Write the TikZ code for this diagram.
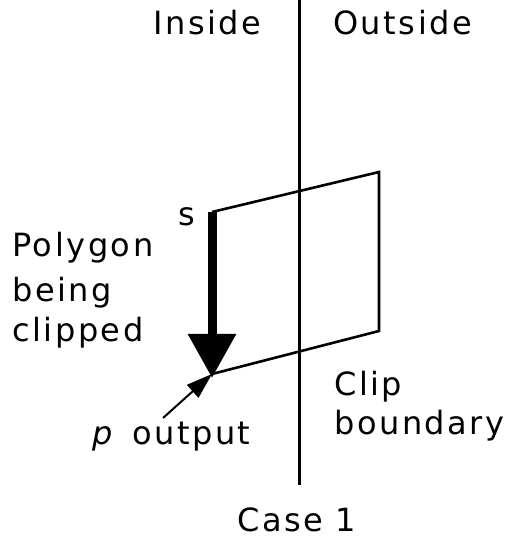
\documentclass[tikz,border=0pt]{standalone}
\usepackage{fontspec}
\newfontfamily\pixfont{DejaVu Sans}[LetterSpace=8]
\usetikzlibrary{arrows.meta}
\begin{document}
\begin{tikzpicture}[x=1pt,y=1pt,
  lbl/.style={inner sep=0pt,anchor=base west,font=\pixfont\fontsize{32}{40}\selectfont},
  edge/.style={line width=2.6pt},
  bigarrow/.style={line width=9pt,-{Triangle[width=46pt,length=44pt]}},
  smallarrow/.style={line width=2pt,-{Triangle[width=17pt,length=26pt]}}]
\useasboundingbox (0,0) rectangle (506,539);
% clip boundary
\coordinate (bt) at (299,539);
\coordinate (bb) at (299,54);
\draw[line width=3pt] (bt) -- (bb);
% polygon
\coordinate (s) at (212,327);
\coordinate (tr) at (379,367);
\coordinate (br) at (379,208);
\coordinate (p) at (212,165);
\draw[edge] (s) -- (tr) -- (br) -- (p);
\draw[bigarrow] (s) -- ([yshift=-4pt]p);
\coordinate (pl) at (163,121);
\draw[smallarrow] (pl) -- (p);
% labels
\node[lbl] (inside) at (153,504) {Inside};
\node[lbl] (outside) at (333,504) {Outside};
\node[lbl] (slab) at (178,313) {s};
\node[lbl] (poly1) at (12,282) {Polygon};
\node[lbl] (poly2) at (12,237) {being};
\node[lbl] (poly3) at (12,197) {clipped};
\node[lbl] (clip1) at (334,143) {Clip};
\node[lbl] (clip2) at (334,104) {boundary};
\node[lbl] (plab) at (92,94) {\itshape p};
\node[lbl] (outlab) at (132,94) {output};
\node[lbl] (case) at (237,7) {Case 1};
\end{tikzpicture}
\end{document}
